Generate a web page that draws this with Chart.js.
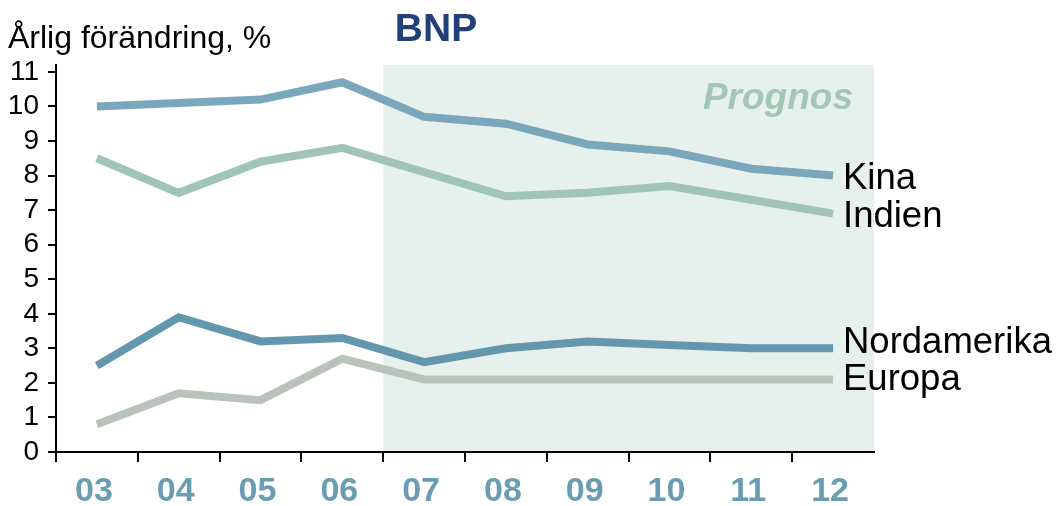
<!DOCTYPE html>
<html>
<head>
<meta charset="utf-8">
<script src="https://cdn.jsdelivr.net/npm/chart.js@4/dist/chart.umd.min.js"></script>
<style>
    html, body { margin: 0; padding: 0; background: #fff; }
    #wrap { width: 1058px; height: 506px; position: relative; }
</style>
</head>
<body>
<div id="wrap"><canvas id="bnpChart" width="1058" height="506"></canvas></div>
<script>
// data
const years = ['03', '04', '05', '06', '07', '08', '09', '10', '11', '12'];
const kina = [10.0, 10.1, 10.2, 10.7, 9.7, 9.5, 8.9, 8.7, 8.2, 8.0];
const indien = [8.5, 7.5, 8.4, 8.8, 8.1, 7.4, 7.5, 7.7, 7.3, 6.9];
const nordamerika = [2.5, 3.9, 3.2, 3.3, 2.6, 3.0, 3.2, 3.1, 3.0, 3.0];
const europa = [0.8, 1.7, 1.5, 2.7, 2.1, 2.1, 2.1, 2.1, 2.1, 2.1];
const yTicks = [0, 1, 2, 3, 4, 5, 6, 7, 8, 9, 10, 11];
const seriesNames = ['Kina', 'Indien', 'Nordamerika', 'Europa'];
const forecastStart = '07';

const FONT = 'Arial, "Liberation Sans", sans-serif';

// shaded forecast area, drawn under everything
const forecastShade = {
    id: 'forecastShade',
    beforeDraw(chart) {
        const { ctx, chartArea, scales } = chart;
        const x0 = scales.x.getPixelForValue(years.indexOf(forecastStart) - 0.5);
        ctx.save();
        ctx.fillStyle = '#e6f0ed';
        ctx.fillRect(x0, chartArea.top, chartArea.right - x0, chartArea.bottom - chartArea.top);
        ctx.restore();
    }
};

// titles and series names at the line ends
const chartTexts = {
    id: 'chartTexts',
    afterDraw(chart) {
        const { ctx, scales } = chart;
        ctx.save();
        ctx.textBaseline = 'alphabetic';

        ctx.fillStyle = '#000';
        ctx.textAlign = 'left';
        ctx.font = '32px ' + FONT;
        ctx.fillText('Årlig förändring, %', 8, 48);

        ctx.fillStyle = '#21407a';
        ctx.textAlign = 'center';
        ctx.font = 'bold 39px ' + FONT;
        ctx.fillText('BNP', 436, 41);

        ctx.fillStyle = '#a3c6b6';
        ctx.textAlign = 'right';
        ctx.font = 'italic bold 37px ' + FONT;
        ctx.fillText('Prognos', 853, 109);

        // nudge so names don't collide
        const shift = [0, 0, -8, -2];
        ctx.fillStyle = '#000';
        ctx.textAlign = 'left';
        ctx.font = '36.5px ' + FONT;
        chart.data.datasets.forEach((ds, i) => {
            const last = ds.data[ds.data.length - 1];
            const y = scales.y.getPixelForValue(last) + shift[i] + 13;
            ctx.fillText(seriesNames[i], 843, y);
        });
        ctx.restore();
    }
};

function lineSet(data, color) {
    return {
        data: data,
        borderColor: color,
        borderWidth: 8,
        pointRadius: 0,
        tension: 0,
        borderCapStyle: 'butt',
        borderJoinStyle: 'miter',
        fill: false
    };
}

new Chart(document.getElementById('bnpChart').getContext('2d'), {
    type: 'line',
    data: {
        labels: years,
        datasets: [
            lineSet(kina, '#7aa7bb'),
            lineSet(indien, '#a0c4b5'),
            lineSet(nordamerika, '#6397ae'),
            lineSet(europa, '#b9c3bb')
        ]
    },
    options: {
        responsive: false,
        animation: false,
        devicePixelRatio: 1,
        layout: { padding: { top: 65, right: 184, left: 0, bottom: 0 } },
        plugins: {
            legend: { display: false },
            tooltip: { enabled: false },
            title: { display: false }
        },
        scales: {
            x: {
                offset: true,
                grid: {
                    offset: true,
                    drawOnChartArea: false,
                    drawTicks: true,
                    tickLength: 10,
                    lineWidth: 2,
                    // no tick mark at the right end of the axis
                    color: c => c.type === 'tick' ? '#000' : 'rgba(0,0,0,0)'
                },
                border: { color: '#000', width: 2 },
                ticks: {
                    color: '#6b9db2',
                    font: { family: FONT, size: 34, weight: 'bold' },
                    padding: 9,
                    labelOffset: -3,
                    maxRotation: 0,
                    autoSkip: false
                },
                afterFit: s => { s.height = 54; }
            },
            y: {
                min: 0,
                max: 11.2,
                afterBuildTicks: s => { s.ticks = yTicks.map(v => ({ value: v })); },
                grid: {
                    drawOnChartArea: false,
                    drawTicks: true,
                    tickLength: 8,
                    lineWidth: 2,
                    color: '#000'
                },
                border: { color: '#000', width: 2 },
                ticks: {
                    color: '#000',
                    font: { family: FONT, size: 28 },
                    padding: 9,
                    autoSkip: false
                },
                afterFit: s => { s.width = 56; }
            }
        }
    },
    plugins: [forecastShade, chartTexts]
});
</script>
</body>
</html>
